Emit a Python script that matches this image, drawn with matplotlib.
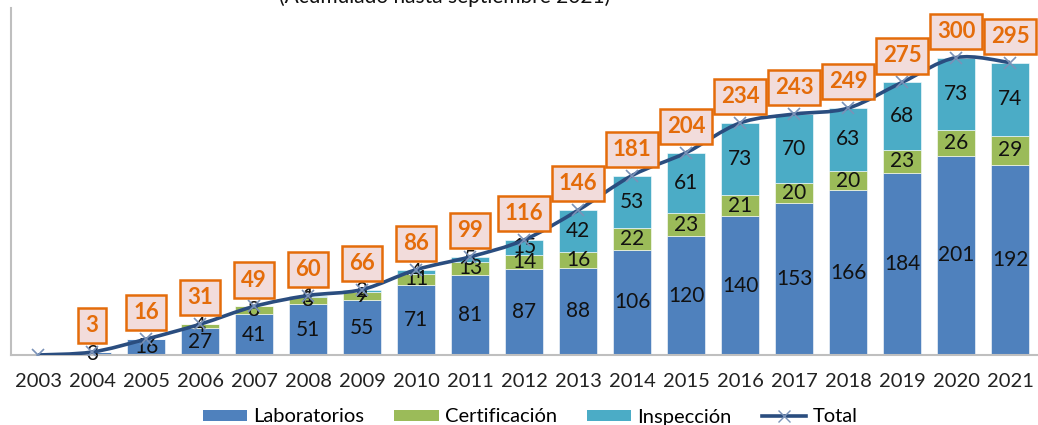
import matplotlib
matplotlib.use("Agg")
import matplotlib.pyplot as plt
import numpy as np
from matplotlib.patches import Patch, PathPatch
from matplotlib.lines import Line2D
from matplotlib.path import Path

# data
years = [str(y) for y in range(2003, 2022)]
laboratorios = [0, 3, 16, 27, 41, 51, 55, 71, 81, 87, 88, 106, 120, 140, 153, 166, 184, 201, 192]
certificacion = [0, 0, 0, 4, 8, 8, 9, 11, 13, 14, 16, 22, 23, 21, 20, 20, 23, 26, 29]
inspeccion = [0, 0, 0, 0, 0, 1, 2, 4, 5, 15, 42, 53, 61, 73, 70, 63, 68, 73, 74]
total = [0, 3, 16, 31, 49, 60, 66, 86, 99, 116, 146, 181, 204, 234, 243, 249, 275, 300, 295]

C_LAB = "#4F81BD"
C_CERT = "#9BBB59"
C_INSP = "#4BACC6"
C_LINE = "#2A4D7F"
C_MARK = "#7A92B8"
C_ORANGE = "#E46C0A"
FONT = "Lato"

plt.rcParams["font.family"] = [FONT, "DejaVu Sans"]

fig = plt.figure(figsize=(10.38, 4.25), dpi=100)
ax = fig.add_axes([11 / 1038, 70 / 425, 1026 / 1038, 347 / 425])

x = np.arange(len(years))
width = 0.72
lab = np.array(laboratorios)
cert = np.array(certificacion)
insp = np.array(inspeccion)

ax.bar(x, lab, width, color=C_LAB, edgecolor="white", linewidth=0.4, zorder=2)
ax.bar(x, cert, width, bottom=lab, color=C_CERT, edgecolor="white", linewidth=0.4, zorder=2)
ax.bar(x, insp, width, bottom=lab + cert, color=C_INSP, edgecolor="white", linewidth=0.4, zorder=2)

# segment labels
for vals, base in [(lab, np.zeros_like(lab)), (cert, lab), (insp, lab + cert)]:
    for xi, v, b in zip(x, vals, base):
        if v > 0:
            ax.text(xi, b + v / 2, str(v), ha="center", va="center",
                    fontsize=15, color="#111111", zorder=3)

# smoothed total line (Excel-style bezier through the points)
t = np.array(total, dtype=float)
pts = np.column_stack([x, t])
verts = [tuple(pts[0])]
codes = [Path.MOVETO]
n = len(pts)
for i in range(n - 1):
    p0 = pts[max(i - 1, 0)]
    p1 = pts[i]
    p2 = pts[i + 1]
    p3 = pts[min(i + 2, n - 1)]
    c1 = p1 + (p2 - p0) / 6
    c2 = p2 - (p3 - p1) / 6
    verts += [tuple(c1), tuple(c2), tuple(p2)]
    codes += [Path.CURVE4] * 3
ax.add_patch(PathPatch(Path(verts, codes), facecolor="none", edgecolor=C_LINE,
                       linewidth=2.6, zorder=4))
ax.plot(x, t, linestyle="none", marker="x", markersize=9, markeredgewidth=1.2,
        color=C_MARK, zorder=5)

# total labels in orange boxes
for xi, v in zip(x, total):
    if v > 0:
        ax.annotate(str(v), (xi, v), xytext=(0, 19), textcoords="offset points",
                    ha="center", va="center", fontsize=16, fontweight="bold",
                    color=C_ORANGE, zorder=6,
                    bbox=dict(boxstyle="square,pad=0.32", facecolor="#F2DCDB",
                              edgecolor=C_ORANGE, linewidth=1.8))

ax.set_xlim(-0.5, len(years) - 0.5)
ax.set_ylim(0, 350)
ax.set_xticks(x)
ax.set_xticklabels(years, fontsize=14.5, color="#222222")
ax.tick_params(axis="x", length=0, pad=13)
ax.set_yticks([])
for s in ["top", "right"]:
    ax.spines[s].set_visible(False)
for s in ["left", "bottom"]:
    ax.spines[s].set_color("#BFBFBF")
    ax.spines[s].set_linewidth(1.5)

fig.text(445 / 1038, 1 - 3 / 425, "(Acumulado hasta septiembre 2021)",
         ha="center", va="baseline", fontsize=15, color="#111111")

handles = [
    Patch(facecolor=C_LAB, label="Laboratorios"),
    Patch(facecolor=C_CERT, label="Certificación"),
    Patch(facecolor=C_INSP, label="Inspección"),
    Line2D([], [], color=C_LINE, linewidth=2.6, marker="x", markersize=9,
           markeredgecolor=C_MARK, label="Total"),
]
fig.legend(handles=handles, loc="center", bbox_to_anchor=(530 / 1038, 1 - 417 / 425),
           ncol=4, frameon=False, fontsize=14.5, handlelength=2.2, handleheight=0.5,
           handletextpad=0.3, columnspacing=1.5, borderaxespad=0)

fig.savefig("out.png", dpi=100)
